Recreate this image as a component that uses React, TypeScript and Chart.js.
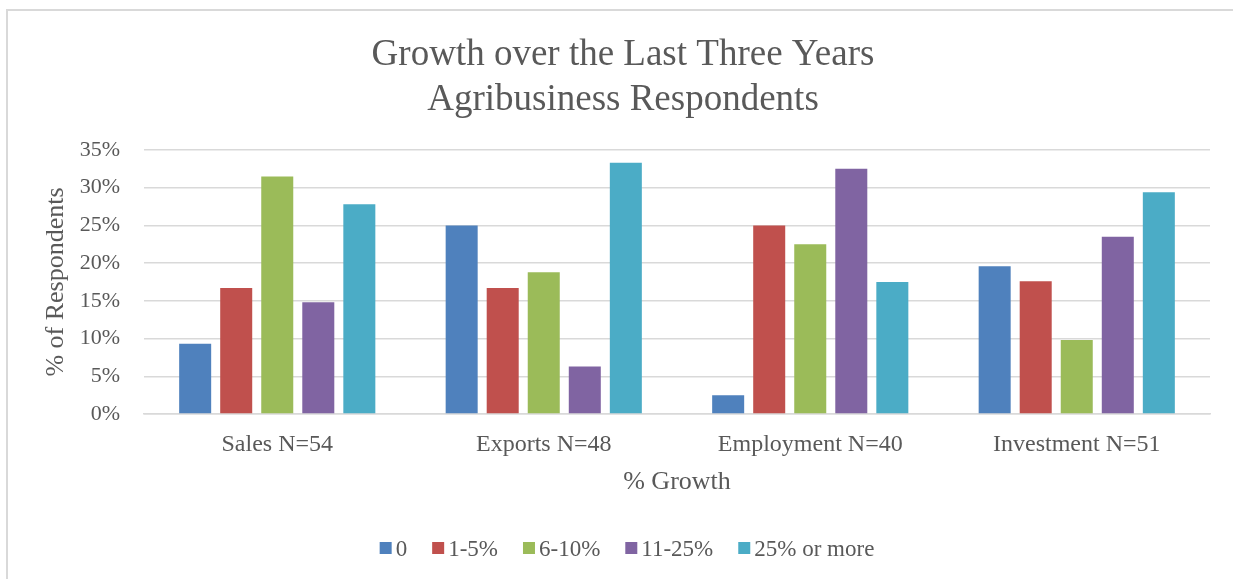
import React, { useEffect, useRef } from "react";
import { Chart, registerables } from "chart.js";

Chart.register(...registerables);

const titleLines = ["Growth over the Last Three Years", "Agribusiness Respondents"];
const categories = ["Sales N=54", "Exports N=48", "Employment N=40", "Investment N=51"];
const seriesLabels = ["0", "1-5%", "6-10%", "11-25%", "25% or more"];
const growthZero = [9.3, 25.0, 2.5, 19.6];
const growth1to5 = [16.7, 16.7, 25.0, 17.6];
const growth6to10 = [31.5, 18.8, 22.5, 9.8];
const growth11to25 = [14.8, 6.3, 32.5, 23.5];
const growth25plus = [27.8, 33.3, 17.5, 29.4];
const seriesColors = ["#4F81BD", "#C0504D", "#9BBB59", "#8064A2", "#4BACC6"];
const yMax = 35;
const yStep = 5;
const xTitle = "% Growth";
const yTitle = "% of Respondents";

const FONT = "'Liberation Serif', 'Times New Roman', serif";
const TEXT = "#595959";
const GRID = "#d9d9d9";

const legendPlugin = {
  id: "customLegend",
  afterDraw(chart: any) {
    const ctx = chart.ctx as CanvasRenderingContext2D;
    ctx.save();
    ctx.font = `23px ${FONT}`;
    ctx.textBaseline = "middle";
    ctx.textAlign = "left";
    const box = 12;
    const gapText = 4;
    const gapItem = 25;
    const items = chart.data.datasets.map((ds: any) => ({
      label: ds.label as string,
      color: ds.backgroundColor as string,
      w: ctx.measureText(ds.label).width,
    }));
    const total =
      items.reduce((s: number, it: any) => s + box + gapText + it.w, 0) +
      gapItem * (items.length - 1);
    let x = chart.width / 2 - total / 2 + 2;
    const y = chart.height - 30.5;
    for (const it of items) {
      ctx.fillStyle = it.color;
      ctx.fillRect(x, y - box / 2 - 0.5, box, box);
      x += box + gapText;
      ctx.fillStyle = TEXT;
      ctx.fillText(it.label, x, y + 1);
      x += it.w + gapItem;
    }
    ctx.restore();
  },
};

export default function App() {
  const ref = useRef<HTMLCanvasElement | null>(null);

  useEffect(() => {
    if (!ref.current) return;
    const seriesValues = [growthZero, growth1to5, growth6to10, growth11to25, growth25plus];
    const chart = new Chart(ref.current, {
      type: "bar",
      data: {
        labels: categories,
        datasets: seriesLabels.map((label, i) => ({
          label,
          data: seriesValues[i],
          backgroundColor: seriesColors[i],
          borderWidth: 0,
          categoryPercentage: 0.77,
          barPercentage: 0.78,
        })),
      },
      options: {
        responsive: false,
        animation: false,
        devicePixelRatio: 1,
        layout: { padding: { left: 27, right: 31, top: 0, bottom: 65 } },
        plugins: {
          legend: { display: false },
          tooltip: { enabled: false },
          title: {
            display: true,
            text: titleLines,
            color: TEXT,
            font: { family: FONT, size: 37, weight: "normal", lineHeight: 1.216 },
            padding: { top: 21.5, bottom: 27.5 },
          },
        },
        scales: {
          x: {
            grid: { display: false, drawTicks: false },
            border: { display: true, color: GRID, width: 1.5 },
            ticks: {
              color: TEXT,
              padding: 16.5,
              font: { family: FONT, size: 24 },
            },
            title: {
              display: true,
              text: xTitle,
              color: TEXT,
              font: { family: FONT, size: 26 },
              padding: { top: 0, bottom: 16.4 },
            },
            afterFit(scale: any) {
              scale.height = 100;
            },
          },
          y: {
            min: 0,
            max: yMax,
            grid: { color: GRID, lineWidth: 1.5, drawTicks: false },
            border: { display: false },
            ticks: {
              stepSize: yStep,
              color: TEXT,
              padding: 24,
              font: { family: FONT, size: 22 },
              callback: (v: any) => `${v}%`,
            },
            title: {
              display: true,
              text: yTitle,
              color: TEXT,
              font: { family: FONT, size: 26 },
              padding: { top: 4.4, bottom: 0 },
            },
            afterFit(scale: any) {
              scale.width = 108;
            },
          },
        },
      },
      plugins: [legendPlugin],
    });
    return () => chart.destroy();
  }, []);

  return (
    <div
      style={{
        position: "fixed",
        left: 0,
        top: 0,
        width: 1233,
        height: 579,
        overflow: "hidden",
        background: "#ffffff",
      }}
    >
      <div
        style={{
          position: "absolute",
          left: 6,
          top: 9,
          width: 1400,
          height: 800,
          border: `2px solid ${GRID}`,
          boxSizing: "border-box",
        }}
      />
      <canvas
        ref={ref}
        width={1232}
        height={568}
        style={{ position: "absolute", left: 9, top: 11, width: 1232, height: 568 }}
      />
    </div>
  );
}
